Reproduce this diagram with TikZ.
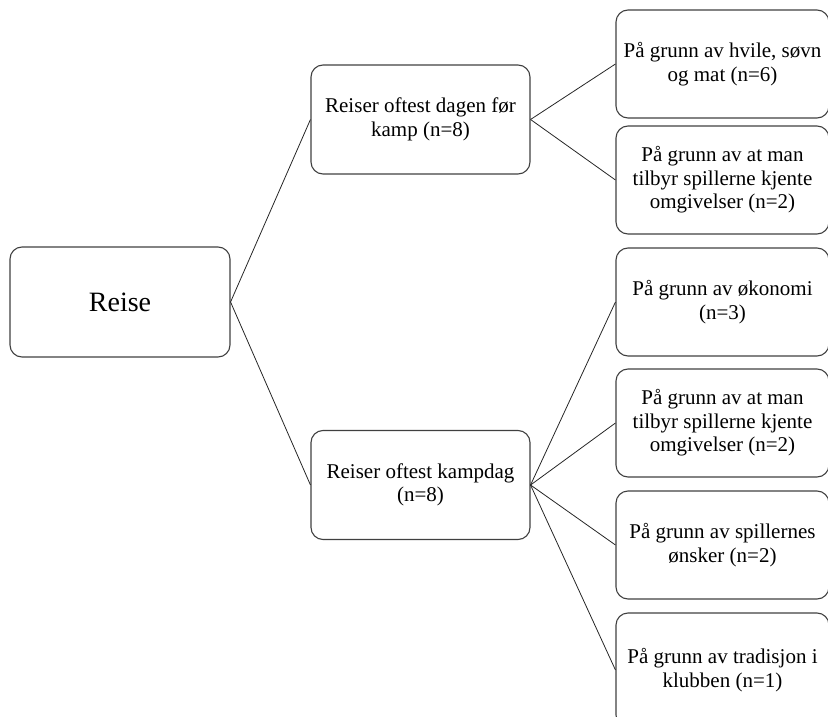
\documentclass[tikz,border=0pt]{standalone}
\usepackage{fontspec}
\setmainfont{Liberation Serif}
\begin{document}
\begin{tikzpicture}[x=1pt,y=-1pt,
  box/.style={draw=black!75, line width=1.1pt, rounded corners=12pt,
    align=center, inner sep=0pt, font=\fontsize{21}{23.5}\selectfont},
  midbox/.style={box, minimum width=219, minimum height=109},
  leafbox/.style={box, minimum width=213, minimum height=108},
  link/.style={draw=black!85, line width=0.8pt}]
\useasboundingbox (0,0) rectangle (828,717);

% root
\node[box, minimum width=220, minimum height=110,
      font=\fontsize{28}{32}\selectfont] (reise) at (120,302) {Reise};

% second level
\node[midbox] (dagfor) at (420.5,119.5) {Reiser oftest dagen før\\kamp (n=8)};
\node[midbox] (kampdag) at (420.5,485) {Reiser oftest kampdag\\(n=8)};

% reasons
\node[leafbox] (hvile) at (722.5,64) {På grunn av hvile, søvn\\og mat (n=6)};
\node[leafbox] (kjenteA) at (722.5,180) {På grunn av at man\\tilbyr spillerne kjente\\omgivelser (n=2)};
\node[leafbox] (okonomi) at (722.5,302) {På grunn av økonomi\\(n=3)};
\node[leafbox] (kjenteB) at (722.5,423) {På grunn av at man\\tilbyr spillerne kjente\\omgivelser (n=2)};
\node[leafbox] (onsker) at (722.5,545) {På grunn av spillernes\\ønsker (n=2)};
\node[leafbox, minimum height=114] (tradisjon) at (722.5,670) {På grunn av tradisjon i\\klubben (n=1)};

% connectors
\draw[link] (reise.east) -- (dagfor.west);
\draw[link] (reise.east) -- (kampdag.west);
\draw[link] (dagfor.east) -- (hvile.west);
\draw[link] (dagfor.east) -- (kjenteA.west);
\draw[link] (kampdag.east) -- (okonomi.west);
\draw[link] (kampdag.east) -- (kjenteB.west);
\draw[link] (kampdag.east) -- (onsker.west);
\draw[link] (kampdag.east) -- (tradisjon.west);
\end{tikzpicture}
\end{document}
